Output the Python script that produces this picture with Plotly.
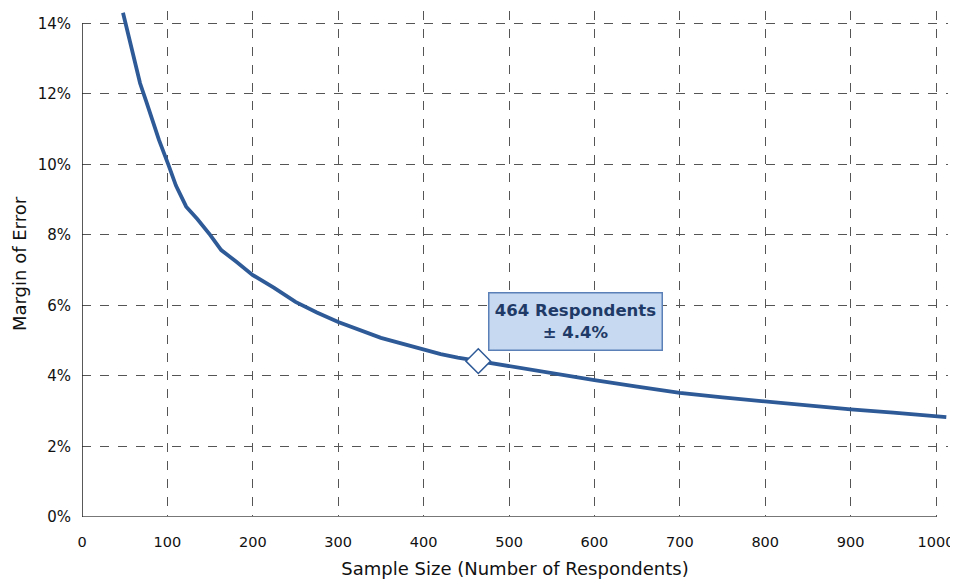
import plotly.graph_objects as go

# Margen de error vs tamaño de muestra
sample_size = [48, 55, 62, 68, 75, 82, 90, 101, 110, 122, 135, 150, 163, 180,
               200, 225, 250, 275, 300, 350, 400, 420, 440, 464, 500, 550,
               600, 650, 700, 750, 800, 850, 900, 950, 1000, 1012]
margin_error = [14.3, 13.6, 12.95, 12.3, 11.8, 11.3, 10.7, 10.0, 9.4, 8.8,
                8.45, 8.0, 7.57, 7.25, 6.86, 6.5, 6.1, 5.8, 5.53, 5.08, 4.75,
                4.62, 4.52, 4.42, 4.28, 4.08, 3.88, 3.70, 3.52, 3.39, 3.27,
                3.16, 3.05, 2.96, 2.86, 2.83]

highlight_n = [464]
highlight_moe = [4.42]
label_text = "464 Respondents<br>± 4.4%"
label_pos = (578, 5.55)

x_ticks = list(range(0, 1001, 100))
y_ticks = list(range(0, 15, 2))
y_labels = [f"{v}%" for v in y_ticks]

BLUE = '#2E5A97'
FONT = 'DejaVu Sans'

fig = go.Figure()

fig.add_trace(go.Scatter(
    x=sample_size, y=margin_error,
    mode='lines',
    line=dict(color=BLUE, width=3.8),
    hoverinfo='skip'
))

fig.add_trace(go.Scatter(
    x=highlight_n, y=highlight_moe,
    mode='markers',
    marker=dict(symbol='diamond', size=19, color='white',
                line=dict(color=BLUE, width=1.5)),
    hoverinfo='skip'
))

fig.add_annotation(
    x=label_pos[0], y=label_pos[1], xref='x', yref='y',
    text='<b>' + label_text + '</b>',
    showarrow=False,
    font=dict(family=FONT, size=16.5, color='#1F3A66'),
    bgcolor='#C6D9F1', bordercolor='#5B80B8', borderwidth=1.5,
    width=170, height=54, borderpad=1
)

# ejes dibujados a mano para que acaben en 1000 y 14%
fig.add_shape(type='line', xref='x', yref='y', x0=0, x1=1000, y0=0, y1=0,
              line=dict(color='#777777', width=2), layer='above')
fig.add_shape(type='line', xref='x', yref='y', x0=0, x1=0, y0=0, y1=14,
              line=dict(color='#222222', width=1.5), layer='above')

# la página html deja 8px de margen, por eso 950x575
fig.update_layout(
    width=950, height=575,
    template='plotly_white',
    plot_bgcolor='white', paper_bgcolor='white',
    showlegend=False,
    margin=dict(l=74, r=10, t=3, b=66),
    font=dict(family=FONT, size=15, color='#111111'),
    xaxis=dict(
        range=[0, 1014], automargin=False,
        tickvals=x_ticks,
        tickfont=dict(size=14.5),
        ticklabeloverflow='allow',
        showgrid=True, gridcolor='#555555', gridwidth=1, griddash='dash',
        zeroline=False, showline=False,
        ticks='outside', ticklen=12, tickcolor='rgba(0,0,0,0)',
        title=dict(text='Sample Size (Number of Respondents)',
                   font=dict(size=18), standoff=12),
    ),
    yaxis=dict(
        range=[0, 14.35], automargin=False,
        tickvals=y_ticks, ticktext=y_labels,
        tickfont=dict(size=15),
        showgrid=True, gridcolor='#555555', gridwidth=1, griddash='dash',
        zeroline=False, showline=False,
        ticks='outside', ticklen=7, tickcolor='rgba(0,0,0,0)',
        title=dict(text='Margin of Error', font=dict(size=18), standoff=6),
    ),
)

fig.write_html("out.html")
